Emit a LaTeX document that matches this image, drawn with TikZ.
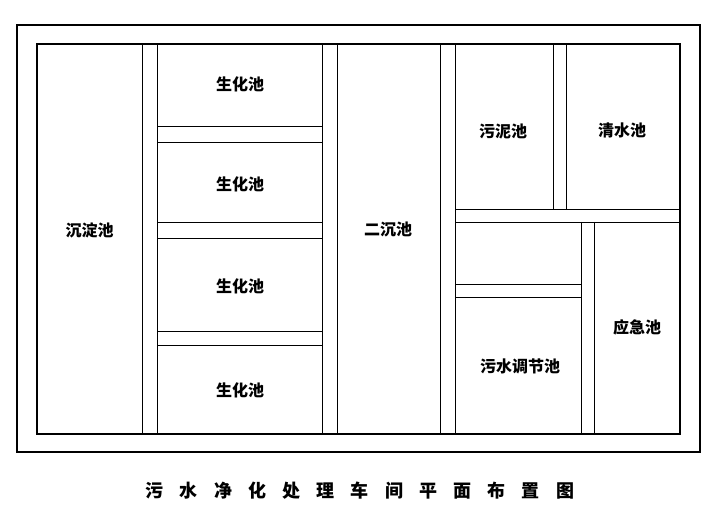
\documentclass[tikz,border=0pt]{standalone}
\usepackage{fontspec}
\newfontfamily\cjk{Noto Sans CJK SC}
\usetikzlibrary{positioning}
\begin{document}
\begin{tikzpicture}[x=1pt,y=-1pt]
\tikzstyle{wall}=[draw, line width=0.9pt]
\tikzstyle{lbl}=[font=\cjk\bfseries\fontsize{16}{16}\selectfont, inner sep=1pt]
\useasboundingbox (0,0) rectangle (722,518);
\draw[line width=1.6pt] (17,25) rectangle (700,452);
\draw[line width=1.6pt] (37,44) rectangle (680,434);
% corridors
\foreach \a/\b in {142/157, 322/337, 440/455}{\draw[wall] (\a,44) -- (\a,434) (\b,44) -- (\b,434);}
\foreach \a/\b in {126/142, 222/238, 331/345}{\draw[wall] (157,\a) -- (322,\a) (157,\b) -- (322,\b);}
\draw[wall] (553,44) -- (553,209) (566,44) -- (566,209);
\draw[wall] (455,209) -- (680,209) (455,222) -- (680,222);
\draw[wall] (581,222) -- (581,434) (594,222) -- (594,434);
\draw[wall] (455,284) -- (581,284) (455,297) -- (581,297);
% rooms
\node[lbl] (cdc) at (89.5,230) {沉淀池};
\node[lbl] (sh1) at (240,84) {生化池};
\node[lbl] (sh2) at (240,184) {生化池};
\node[lbl] (sh3) at (240,286) {生化池};
\node[lbl] (sh4) at (240,390) {生化池};
\node[lbl] (ecc) at (388,229) {二沉池};
\node[lbl] (wnc) at (503,132) {污泥池};
\node[lbl] (qsc) at (622,130) {清水池};
\node[lbl] (tjc) at (520,366) {污水调节池};
\node[lbl] (yjc) at (637,327) {应急池};
\node[font=\cjk\bfseries\fontsize{18}{18}\selectfont] (title) at (360,491) {污\hspace{0.9em}水\hspace{0.9em}净\hspace{0.9em}化\hspace{0.9em}处\hspace{0.9em}理\hspace{0.9em}车\hspace{0.9em}间\hspace{0.9em}平\hspace{0.9em}面\hspace{0.9em}布\hspace{0.9em}置\hspace{0.9em}图};
\end{tikzpicture}
\end{document}
